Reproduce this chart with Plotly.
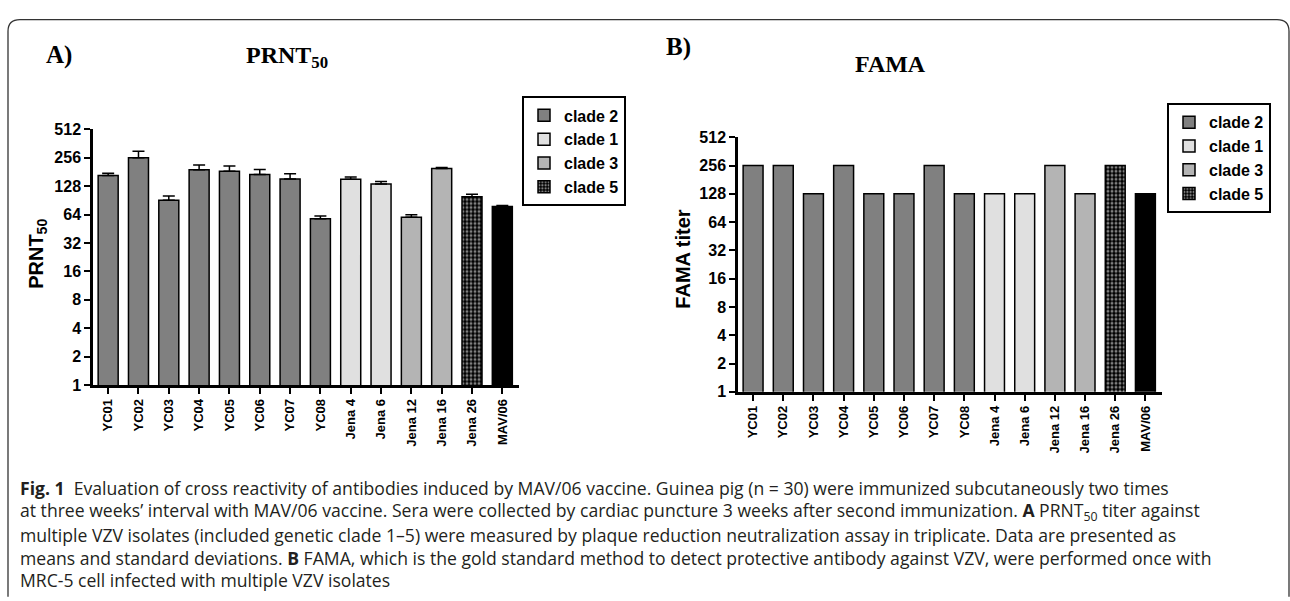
import math
import plotly.graph_objects as go

W, H = 1290, 601

isolates = ["YC01", "YC02", "YC03", "YC04", "YC05", "YC06", "YC07", "YC08",
            "Jena 4", "Jena 6", "Jena 12", "Jena 16", "Jena 26", "MAV/06"]
clades = ["clade 2"] * 8 + ["clade 1"] * 2 + ["clade 3"] * 2 + ["clade 5"] + ["vaccine"]
prnt_mean = [166, 256, 91, 191, 185, 171, 153, 58, 152, 135, 60, 197, 99, 78]
prnt_sd = [10, 44, 10, 24, 25, 22, 21, 4, 8, 9, 4, 5, 6, 2]
fama_titer = [256, 256, 128, 256, 128, 128, 256, 128, 128, 128, 256, 128, 256, 128]
ytick_vals = [1, 2, 4, 8, 16, 32, 64, 128, 256, 512]
legend_clades = ["clade 2", "clade 1", "clade 3", "clade 5"]

clade_color = {"clade 2": "#808080", "clade 1": "#e0e0e0", "clade 3": "#b4b4b4",
               "clade 5": "#000000", "vaccine": "#000000"}


def px(x):
    return x / W


def py(y):
    return 1 - y / H


fig = go.Figure()


def add_panel(values, errors, xa, ya, legend_name):
    for cl in legend_clades + ["vaccine"]:
        idx = [i for i, c in enumerate(clades) if c == cl]
        xs = [isolates[i] for i in idx]
        ys = [values[i] for i in idx]
        marker = dict(color=clade_color[cl], line=dict(color="black", width=1.5))
        if cl == "clade 5":
            marker["pattern"] = dict(shape=".", bgcolor="black", fgcolor="white",
                                     size=4, solidity=0.45)
        err = None
        if errors is not None:
            err = dict(type="data", symmetric=False, array=[errors[i] for i in idx],
                       arrayminus=[0] * len(idx), color="black", thickness=1.5, width=6)
        fig.add_trace(go.Bar(
            x=xs, y=ys, name=cl, marker=marker, error_y=err, width=0.66,
            xaxis=xa, yaxis=ya, legend=legend_name,
            showlegend=(cl != "vaccine"),
        ))


add_panel(prnt_mean, prnt_sd, "x", "y", "legend")
add_panel(fama_titer, None, "x2", "y2", "legend2")

SANS = "Liberation Sans, Arial"
xcommon = dict(type="category", categoryorder="array", categoryarray=isolates,
               range=[-0.5, 13.55], showline=True, linecolor="black", linewidth=2.5,
               ticks="outside", ticklen=6, tickwidth=2, tickcolor="black",
               tickangle=-90, showgrid=False, zeroline=False,
               tickfont=dict(family=SANS, size=13, color="black", weight="bold"))
ycommon = dict(type="log", range=[0, math.log10(512)], tickvals=ytick_vals,
               ticktext=[str(v) for v in ytick_vals], showline=True, linecolor="black",
               linewidth=2.5, ticks="outside", ticklen=6, tickwidth=2, tickcolor="black",
               showgrid=False, zeroline=False,
               tickfont=dict(family=SANS, size=16, color="black", weight="bold"))

legend_font = dict(family=SANS, size=16, color="black", weight="bold")
fig.update_layout(
    width=W, height=H, margin=dict(l=0, r=0, t=0, b=0),
    paper_bgcolor="white", plot_bgcolor="white", barmode="overlay",
    xaxis=dict(domain=[px(93), px(519)], anchor="y", **xcommon),
    yaxis=dict(domain=[py(388), py(125)], anchor="x", **ycommon),
    xaxis2=dict(domain=[px(738), px(1162)], anchor="y2", **xcommon),
    yaxis2=dict(domain=[py(395), py(133)], anchor="x2", **ycommon),
    legend=dict(x=px(522), y=py(91), xanchor="left", yanchor="top",
                bordercolor="black", borderwidth=2, bgcolor="white",
                font=legend_font, itemwidth=30, tracegroupgap=0),
    legend2=dict(x=px(1167), y=py(98), xanchor="left", yanchor="top",
                 bordercolor="black", borderwidth=2, bgcolor="white",
                 font=legend_font, itemwidth=30, tracegroupgap=0),
    showlegend=True,
)

serif = "Liberation Serif, Times New Roman"
ann = []
ann.append(dict(text="<b>A)</b>", x=px(44), y=py(48), xanchor="left", yanchor="middle",
                font=dict(family=serif, size=25, color="black")))
ann.append(dict(text="<b>PRNT<sub>50</sub></b>", x=px(287), y=py(50), xanchor="center",
                yanchor="middle", font=dict(family=serif, size=24, color="black")))
ann.append(dict(text="<b>B)</b>", x=px(664), y=py(40), xanchor="left", yanchor="middle",
                font=dict(family=serif, size=25, color="black")))
ann.append(dict(text="<b>FAMA</b>", x=px(890), y=py(58), xanchor="center",
                yanchor="middle", font=dict(family=serif, size=24, color="black")))
ann.append(dict(text="<b>PRNT<sub>50</sub></b>", x=px(38), y=py(253), textangle=-90,
                xanchor="center", yanchor="middle",
                font=dict(family=SANS, size=20, color="black")))
ann.append(dict(text="<b>FAMA titer</b>", x=px(683), y=py(259), textangle=-90,
                xanchor="center", yanchor="middle",
                font=dict(family=SANS, size=20, color="black")))

caption_lines = [
    "<b>Fig. 1</b>  Evaluation of cross reactivity of antibodies induced by MAV/06 vaccine. Guinea pig (n = 30) were immunized subcutaneously two times",
    "at three weeks’ interval with MAV/06 vaccine. Sera were collected by cardiac puncture 3 weeks after second immunization. <b>A</b> PRNT<sub>50</sub> titer against",
    "multiple VZV isolates (included genetic clade 1–5) were measured by plaque reduction neutralization assay in triplicate. Data are presented as",
    "means and standard deviations. <b>B</b> FAMA, which is the gold standard method to detect protective antibody against VZV, were performed once with",
    "MRC-5 cell infected with multiple VZV isolates",
]
cap_y = [494, 518, 542, 566, 589]
for t, yy in zip(caption_lines, cap_y):
    ann.append(dict(text=t, x=px(18), y=py(yy), xanchor="left", yanchor="middle",
                    font=dict(family="Open Sans", size=17.6, color="#231f20")))

for a in ann:
    a.update(xref="paper", yref="paper", showarrow=False)
fig.update_layout(annotations=ann)

# outer rounded frame
x0, x1, yt, r = 8, 1289, 12, 12
path = (f"M {px(x0)},{py(H + 5)} L {px(x0)},{py(yt + r)} "
        f"Q {px(x0)},{py(yt)} {px(x0 + r)},{py(yt)} L {px(x1 - r)},{py(yt)} "
        f"Q {px(x1)},{py(yt)} {px(x1)},{py(yt + r)} L {px(x1)},{py(H + 5)}")
fig.add_shape(type="path", path=path, xref="paper", yref="paper",
              line=dict(color="#333333", width=1.3))

fig.write_html("out.html", config={"displayModeBar": False},
               post_script="document.body.style.margin='0';document.body.style.overflow='hidden';")
